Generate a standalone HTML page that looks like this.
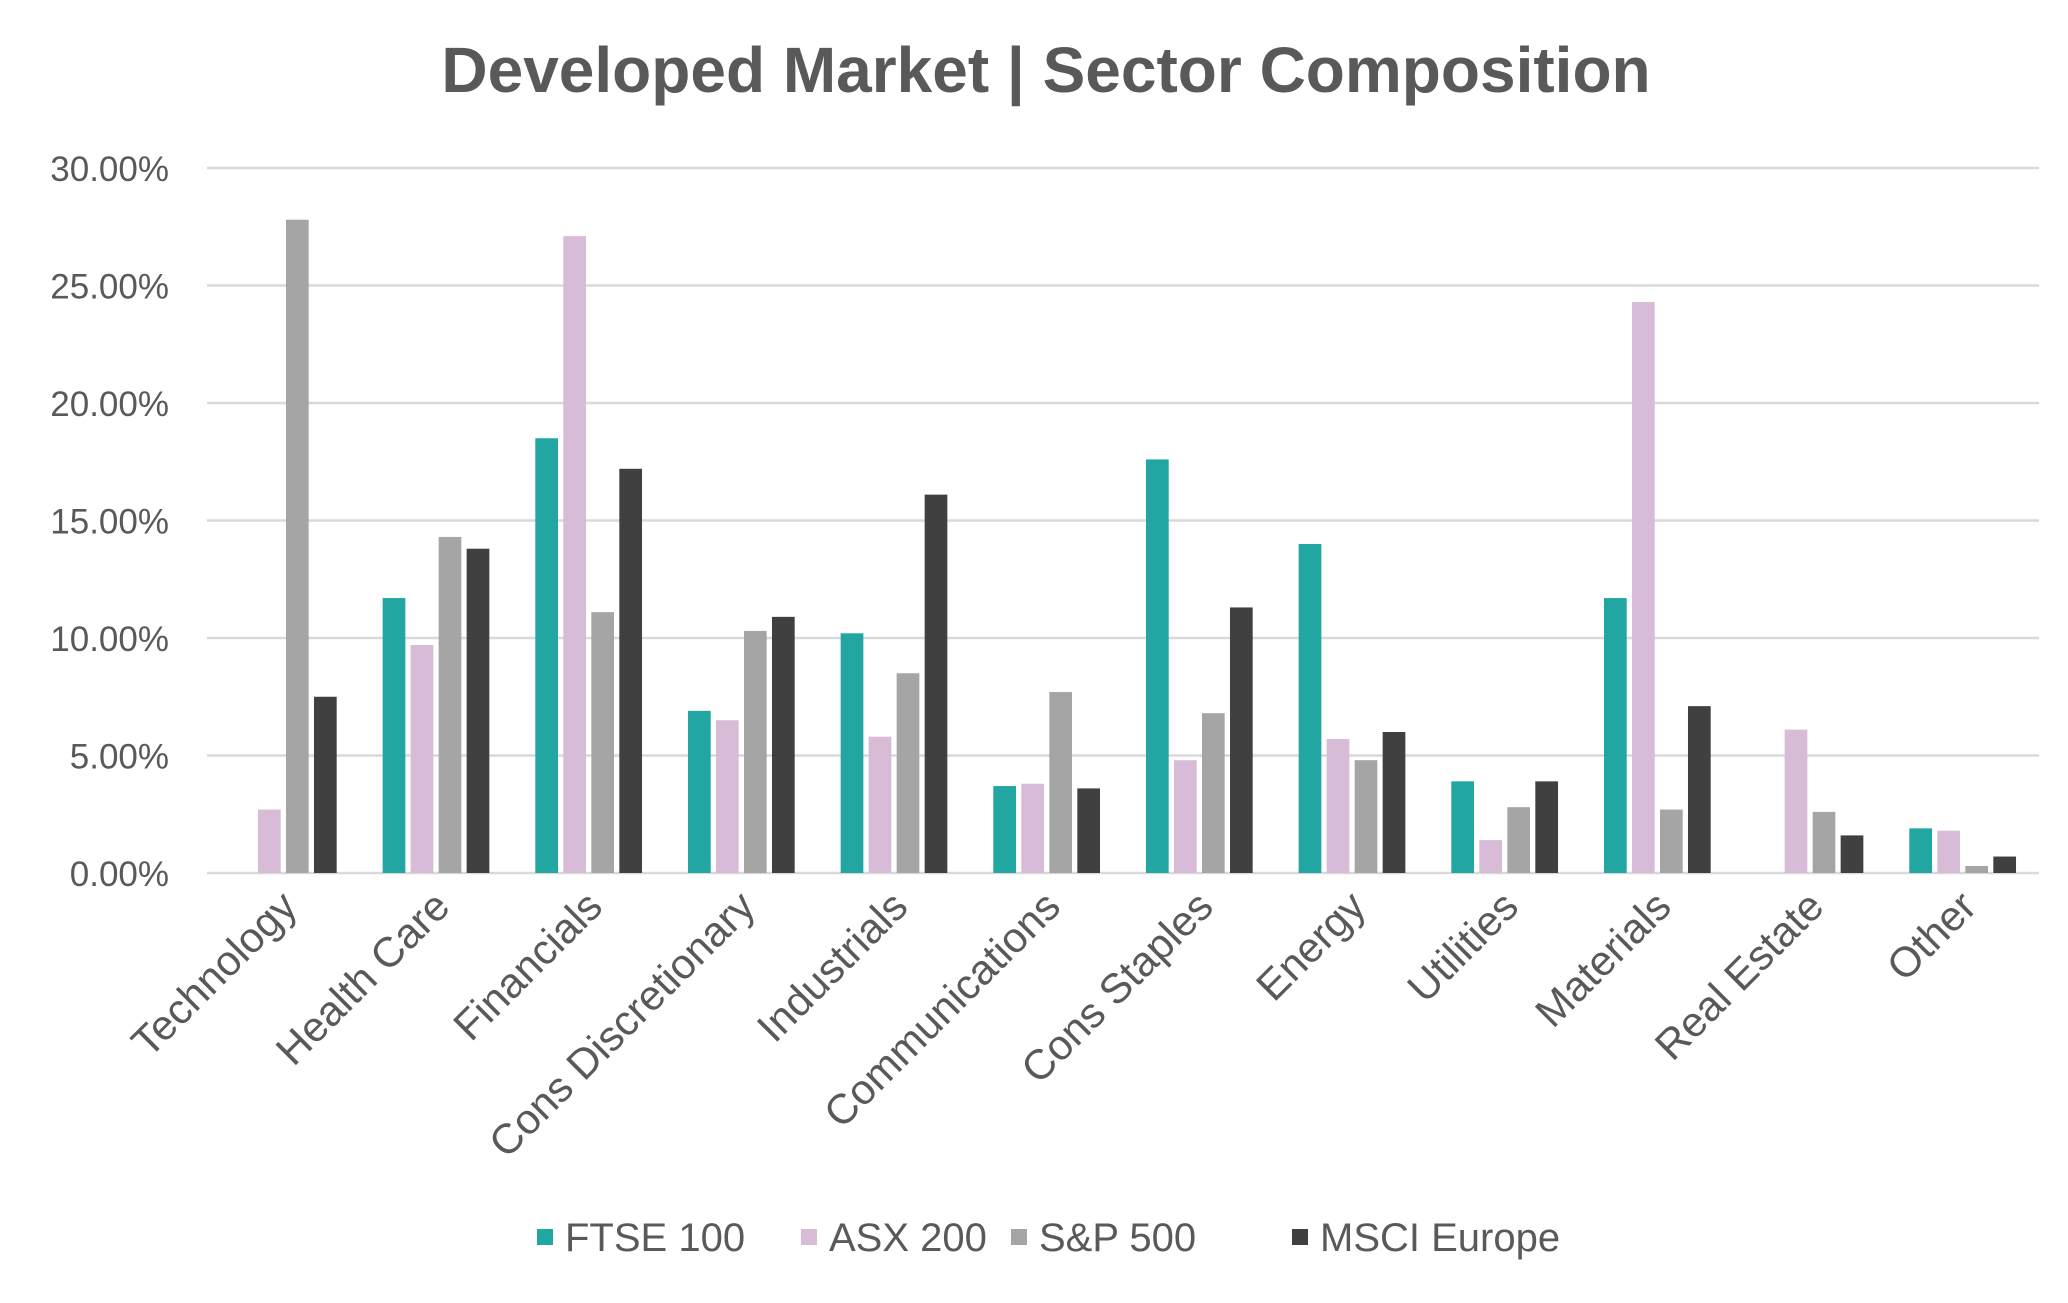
<!DOCTYPE html>
<html><head><meta charset="utf-8"><style>
html,body{margin:0;padding:0;background:#fff;}
svg text{font-family:"Liberation Sans",Arial,sans-serif;fill:#595959;}
</style></head><body>
<svg id="chart" width="2068" height="1298" viewBox="0 0 2068 1298" xmlns="http://www.w3.org/2000/svg">
<text x="1046" y="92" font-size="64" font-weight="bold" text-anchor="middle">Developed Market | Sector Composition</text>
<g id="grid"></g><g id="bars"></g><g id="xlabels"></g><g id="legend"></g>
</svg>
<script>
const categories = ["Technology","Health Care","Financials","Cons Discretionary","Industrials","Communications","Cons Staples","Energy","Utilities","Materials","Real Estate","Other"];
const seriesNames = ["FTSE 100","ASX 200","S&P 500","MSCI Europe"];
const ftse = [0,11.7,18.5,6.9,10.2,3.7,17.6,14.0,3.9,11.7,0,1.9];
const asx = [2.7,9.7,27.1,6.5,5.8,3.8,4.8,5.7,1.4,24.3,6.1,1.8];
const sp = [27.8,14.3,11.1,10.3,8.5,7.7,6.8,4.8,2.8,2.7,2.6,0.3];
const msci = [7.5,13.8,17.2,10.9,16.1,3.6,11.3,6.0,3.9,7.1,1.6,0.7];
const yTicks = [0,5,10,15,20,25,30];
const yTickLabels = ["0.00%","5.00%","10.00%","15.00%","20.00%","25.00%","30.00%"];

const colors = ["#21A6A1","#D8BBD7","#A5A5A5","#404040"];
const series = [ftse, asx, sp, msci];
const NS = "http://www.w3.org/2000/svg";
const X0 = 207, X1 = 2039, Y0 = 873, Y1 = 168, YMAX = 30;
const bandW = (X1 - X0) / categories.length;
const y = v => Y0 - (v / YMAX) * (Y0 - Y1);
const xc = i => X0 + bandW * (i + 0.5);
const barW = 22.7, step = 28;
function mk(tag, attrs, parent){const e=document.createElementNS(NS,tag);for(const k in attrs)e.setAttribute(k,attrs[k]);parent.appendChild(e);return e;}

const grid = document.getElementById('grid');
yTicks.forEach((t,i)=>{
  const l = mk('line',{x1:X0,x2:X1,y1:y(t),y2:y(t),stroke:'#D9D9D9','stroke-width':2.5},grid);
  
  
  const tx = mk('text',{x:169,y:y(t)+13,'font-size':35,'text-anchor':'end'},grid);
  tx.textContent = yTickLabels[i];
  
  
});

const bars = document.getElementById('bars');
categories.forEach((c,i)=>{
  series.forEach((s,j)=>{
    const left = xc(i) - (step*3 + barW)/2 + j*step;
    const r = mk('rect',{x:left,y:y(s[i]),width:barW,height:Y0-y(s[i]),fill:colors[j]},bars);
    
    
  });
  const tx = mk('text',{x:0,y:0,'font-size':42,'text-anchor':'end',transform:`translate(${xc(i)+16},${Y0+36}) rotate(-45)`},document.getElementById('xlabels'));
  tx.textContent = c;
  
  
});

const legend = document.getElementById('legend');
const lx = [537, 801, 1011, 1292];
seriesNames.forEach((n,j)=>{
  const g = mk('g',{},legend);
  
  
  mk('rect',{x:lx[j],y:1229,width:16,height:16,fill:colors[j]},g);
  const t = mk('text',{x:lx[j]+28,y:1251,'font-size':40},g);
  t.textContent = n;
});
</script>
</body></html>
